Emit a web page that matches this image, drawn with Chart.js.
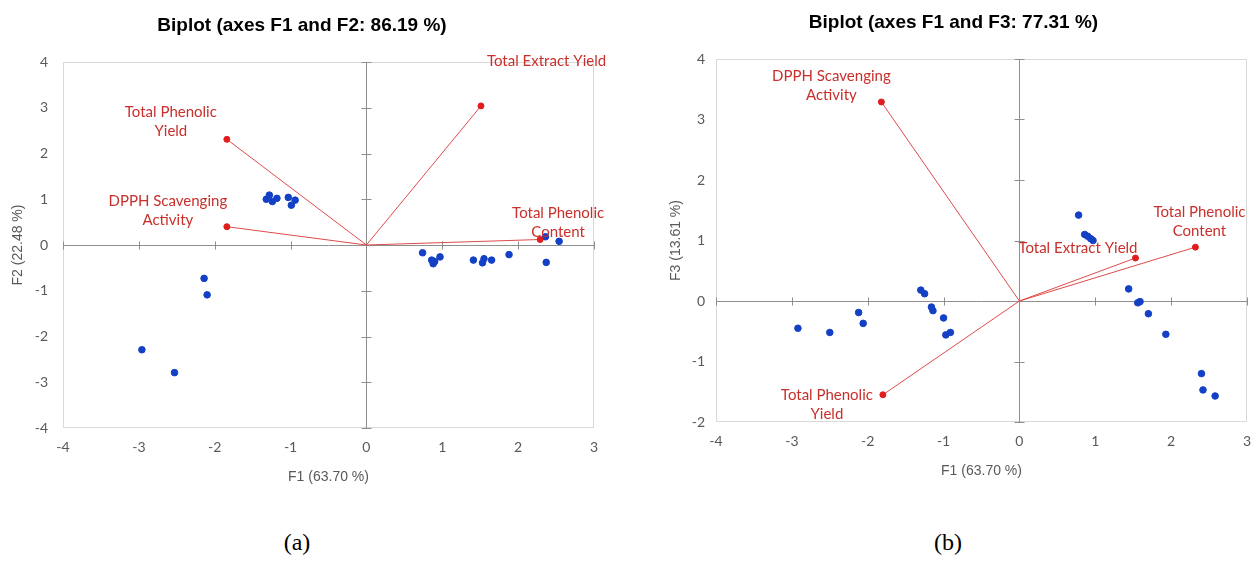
<!DOCTYPE html>
<html>
<head>
<meta charset="utf-8">
<script src="https://cdn.jsdelivr.net/npm/chart.js@4/dist/chart.umd.min.js"></script>
<style>
  html, body { margin: 0; padding: 0; background: #fff; width: 1254px; height: 563px; overflow: hidden; }
  .panel { position: absolute; top: 0; height: 500px; }
  #panelA { left: 0; width: 620px; }
  #panelB { left: 634px; width: 636px; }
  .caption { position: absolute; top: 530px; font-family: "Liberation Serif", "Times New Roman", serif; font-size: 24px; color: #000; transform: translateX(-50%); line-height: 1; }
</style>
</head>
<body>
<div class="panel" id="panelA"><canvas id="chartA" width="620" height="500"></canvas></div>
<div class="panel" id="panelB"><canvas id="chartB" width="636" height="500"></canvas></div>
<div class="caption" style="left:297px">(a)</div>
<div class="caption" style="left:948px">(b)</div>
<script>
// ---- data ----
const variableLines = [
  ['Total Extract Yield'],
  ['Total Phenolic', 'Yield'],
  ['DPPH Scavenging', 'Activity'],
  ['Total Phenolic', 'Content']
];

// variable loadings (vectors)
const loadF1a = [1.51, -1.84, -1.84, 2.29];
const loadF2  = [3.04,  2.31,  0.40, 0.12];
const loadF1b = [1.53, -1.80, -1.82, 2.32];
const loadF3  = [0.71, -1.55,  3.29, 0.89];

// observation scores, F1 vs F2
const obsF1a = [-1.32, -1.28, -1.24, -1.18, -1.03, -0.99, -0.94,
                -2.96, -2.53, -2.14, -2.10,
                 0.74,  0.86,  0.88,  0.90,  0.97,  1.41,  1.53,  1.55,  1.65,  1.88,  2.37,  2.36,  2.54];
const obsF2  = [ 1.00,  1.09,  0.95,  1.02,  1.04,  0.87,  0.98,
                -2.29, -2.79, -0.73, -1.09,
                -0.17, -0.33, -0.41, -0.36, -0.26, -0.33, -0.39, -0.30, -0.33, -0.21, -0.38,  0.18,  0.08];

// observation scores, F1 vs F3
const obsF1b = [-1.30, -1.25, -1.16, -1.14, -1.00, -0.97, -0.91,
                -2.92, -2.50, -2.12, -2.06,
                 0.78,  0.86,  0.90,  0.94,  0.97,  1.44,  1.56,  1.59,  1.70,  1.93,  2.40,  2.42,  2.58];
const obsF3  = [ 0.18,  0.12, -0.10, -0.16, -0.28, -0.56, -0.52,
                -0.45, -0.52, -0.19, -0.37,
                 1.42,  1.10,  1.07,  1.03,  1.00,  0.20, -0.03, -0.01, -0.21, -0.55, -1.20, -1.47, -1.57];

const xTicks  = [-4, -3, -2, -1, 0, 1, 2, 3];
const yTicksA = [-4, -3, -2, -1, 0, 1, 2, 3, 4];
const yTicksB = [-2, -1, 0, 1, 2, 3, 4];

// ---- styles ----
const BLUE = '#1340c4';
const RED_LINE = '#df4a4a';
const RED_PT = '#e01d1d';
const RED_TEXT = '#c8302c';
const GREY_TEXT = '#595959';
const LABEL_FONT = '15px Lato, "Liberation Sans", sans-serif';

// label placement for each vector tip: offset in px, alignment
const placeA = [
  { dx: 6,   dy: -45, align: 'left' },
  { dx: -56, dy: -27, align: 'center' },
  { dx: -59, dy: -26, align: 'center' },
  { dx: 18,  dy: -26, align: 'center' }
];
const placeB = [
  { dx: 2,   dy: -10, align: 'right' },
  { dx: -56, dy: 0,   align: 'center' },
  { dx: -50, dy: -26, align: 'center' },
  { dx: 4,   dy: -35, align: 'center' }
];

// frame + axes crossing at the origin with cross tick marks
const originAxes = {
  id: 'originAxes',
  beforeDatasetsDraw(chart) {
    const { ctx, chartArea: a, scales: { x, y } } = chart;
    const seg = (x1, y1, x2, y2) => { ctx.beginPath(); ctx.moveTo(x1, y1); ctx.lineTo(x2, y2); ctx.stroke(); };
    ctx.save();
    ctx.lineWidth = 1;
    ctx.strokeStyle = '#d9d9d9';
    ctx.strokeRect(Math.round(a.left) + 0.5, Math.round(a.top) + 0.5, Math.round(a.width) - 1, Math.round(a.height) - 1);
    const x0 = Math.round(x.getPixelForValue(0)) + 0.5;
    const y0 = Math.round(y.getPixelForValue(0)) + 0.5;
    ctx.strokeStyle = '#8f8f8f';
    seg(x0, a.top, x0, a.bottom);
    seg(a.left, y0, a.right, y0);
    y.ticks.forEach(t => {
      if (t.value === 0) return;
      const py = Math.round(y.getPixelForValue(t.value)) + 0.5;
      seg(x0 - 5, py, x0 + 5, py);
    });
    x.ticks.forEach(t => {
      if (t.value === 0) return;
      const px = Math.round(x.getPixelForValue(t.value)) + 0.5;
      seg(px, y0 - 4, px, y0 + 4);
    });
    ctx.restore();
  }
};

// red variable names next to the vector tips
const vectorLabels = {
  id: 'vectorLabels',
  afterDatasetsDraw(chart, args, opts) {
    const { ctx, scales: { x, y } } = chart;
    ctx.save();
    ctx.font = LABEL_FONT;
    ctx.fillStyle = RED_TEXT;
    ctx.textBaseline = 'middle';
    opts.lx.forEach((vx, i) => {
      const px = x.getPixelForValue(vx);
      const py = y.getPixelForValue(opts.ly[i]);
      const p = opts.place[i];
      ctx.textAlign = p.align;
      variableLines[i].forEach((line, k) => {
        ctx.fillText(line, px + p.dx, py + p.dy + k * 19);
      });
    });
    ctx.restore();
  }
};

function vectorDatasets(lx, ly) {
  return lx.map((vx, i) => ({
    label: variableLines[i].join(' '),
    data: [{ x: 0, y: 0 }, { x: vx, y: ly[i] }],
    showLine: true,
    borderColor: RED_LINE,
    borderWidth: 1,
    backgroundColor: RED_PT,
    pointBorderColor: RED_PT,
    pointRadius: [0, 3],
    pointHoverRadius: [0, 3],
    order: 1
  }));
}

function makeChart(id, cfg) {
  const obs = cfg.ox.map((v, i) => ({ x: v, y: cfg.oy[i] }));
  return new Chart(document.getElementById(id), {
    type: 'scatter',
    data: {
      datasets: [
        {
          label: 'Observations',
          data: obs,
          backgroundColor: BLUE,
          borderColor: BLUE,
          pointRadius: 3.3,
          pointHoverRadius: 3.3,
          order: 2
        },
        ...vectorDatasets(cfg.lx, cfg.ly)
      ]
    },
    options: {
      responsive: false,
      animation: false,
      events: [],
      layout: { padding: cfg.padding },
      plugins: {
        legend: { display: false },
        tooltip: { enabled: false },
        title: {
          display: true,
          text: cfg.title,
          color: '#000',
          font: { family: '"Liberation Sans", Arial, sans-serif', size: 19, weight: 'bold' },
          padding: cfg.titlePad
        },
        vectorLabels: { lx: cfg.lx, ly: cfg.ly, place: cfg.place }
      },
      scales: {
        x: {
          type: 'linear',
          min: -4, max: 3,
          afterBuildTicks: s => { s.ticks = xTicks.map(v => ({ value: v })); },
          afterFit: s => { s.height = cfg.xHeight; },
          grid: { display: false, drawTicks: false },
          border: { display: false },
          ticks: { color: GREY_TEXT, padding: 11, font: { family: 'Lato, "Liberation Sans", sans-serif', size: 14 } },
          title: { display: true, text: cfg.xTitle, color: GREY_TEXT, padding: { top: 0, bottom: cfg.xTitlePad },
                   font: { family: '"Liberation Sans", Arial, sans-serif', size: 14 } }
        },
        y: {
          type: 'linear',
          min: cfg.yTicks[0], max: cfg.yTicks[cfg.yTicks.length - 1],
          afterBuildTicks: s => { s.ticks = cfg.yTicks.map(v => ({ value: v })); },
          afterFit: s => { s.width = cfg.yWidth; },
          grid: { display: false, drawTicks: false },
          border: { display: false },
          ticks: { color: GREY_TEXT, padding: cfg.yTickPad, font: { family: 'Lato, "Liberation Sans", sans-serif', size: 14 } },
          title: { display: true, text: cfg.yTitle, color: GREY_TEXT, padding: { top: cfg.yTitlePad, bottom: 0 },
                   font: { family: '"Liberation Sans", Arial, sans-serif', size: 14 } }
        }
      }
    },
    plugins: [originAxes, vectorLabels]
  });
}

makeChart('chartA', {
  title: 'Biplot (axes F1 and F2: 86.19 %)',
  xTitle: 'F1 (63.70 %)', yTitle: 'F2 (22.48 %)',
  ox: obsF1a, oy: obsF2, lx: loadF1a, ly: loadF2,
  yTicks: yTicksA, place: placeA,
  padding: { left: 10, right: 26, top: 0, bottom: 0 },
  titlePad: { top: 14, bottom: 25.2 },
  xHeight: 72, xTitlePad: 14, yWidth: 53, yTickPad: 15, yTitlePad: 0
});

makeChart('chartB', {
  title: 'Biplot (axes F1 and F3: 77.31 %)',
  xTitle: 'F1 (63.70 %)', yTitle: 'F3 (13.61 %)',
  ox: obsF1b, oy: obsF3, lx: loadF1b, ly: loadF3,
  yTicks: yTicksB, place: placeB,
  padding: { left: 26, right: 23, top: 0, bottom: 0 },
  titlePad: { top: 11, bottom: 25.2 },
  xHeight: 78, xTitlePad: 20, yWidth: 56, yTickPad: 11, yTitlePad: 8
});
</script>
</body>
</html>
